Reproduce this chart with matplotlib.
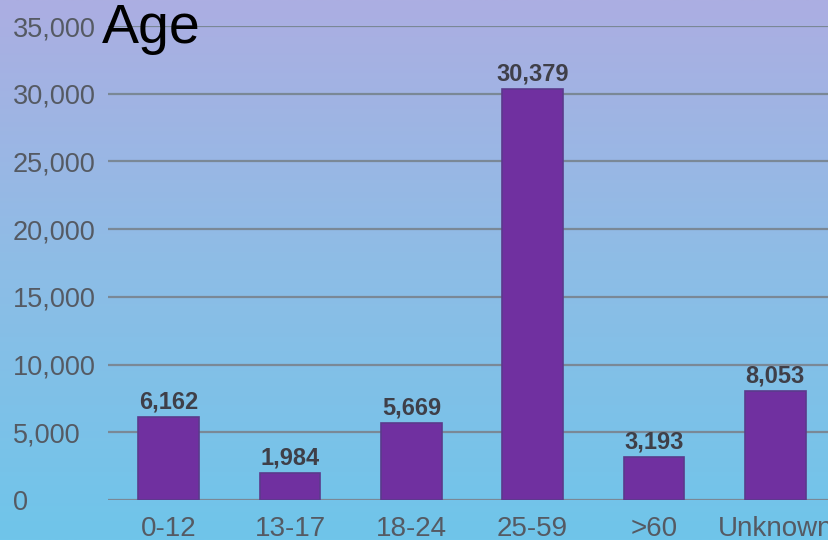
import numpy as np
import matplotlib.pyplot as plt
from matplotlib.colors import LinearSegmentedColormap

plt.rcParams['font.family'] = ['Liberation Sans', 'DejaVu Sans']

# data
categories = ['0-12', '13-17', '18-24', '25-59', '>60', 'Unknown']
counts = [6162, 1984, 5669, 30379, 3193, 8053]
yticks = [0, 5000, 10000, 15000, 20000, 25000, 30000, 35000]

W, H = 829, 540
fig = plt.figure(figsize=(W / 100, H / 100), dpi=100)

# background gradient, lavender at top to sky blue at bottom
bg = fig.add_axes([0, 0, 1, 1], zorder=0)
cmap = LinearSegmentedColormap.from_list('bg', ['#6fc5ea', '#8dbde6', '#acaee2'])
grad = np.linspace(0, 1, 256).reshape(-1, 1)
bg.imshow(grad, aspect='auto', cmap=cmap, origin='lower', extent=[0, 1, 0, 1])
bg.axis('off')

# main axes; right side runs a bit past the figure edge like the original
left, right, top, bottom = 108, 836, 26, 500
ax = fig.add_axes([left / W, (H - bottom) / H, (right - left) / W, (bottom - top) / H], zorder=1)
ax.patch.set_alpha(0)

x = np.arange(len(categories))
ax.bar(x, counts, width=0.5, color='#7030a0', edgecolor='#5b3a8c', linewidth=1.2, zorder=3)

for xi, v in zip(x, counts):
    ax.text(xi, v + 250, f'{v:,}', ha='center', va='bottom', fontsize=17,
            fontweight='bold', color='#3f3f48', zorder=4)

ax.set_xlim(-0.5, len(categories) - 0.5)
ax.set_ylim(0, 35000)
ax.set_yticks(yticks)
ax.set_yticklabels([f'{t:,}' for t in yticks])
ax.set_xticks(x)
ax.set_xticklabels(categories)

ax.yaxis.grid(True, color='#7a8896', linewidth=1.6, zorder=1)
ax.set_axisbelow(True)
for s in ax.spines.values():
    s.set_visible(False)

# y labels are left aligned at the figure edge; pad is in points
ax.tick_params(axis='y', length=0, pad=(left - 13) * 0.72, labelsize=19.5, labelcolor='#555a63')
ax.tick_params(axis='x', length=0, pad=11.5, labelsize=20, labelcolor='#555a63')
for lab in ax.get_yticklabels():
    lab.set_horizontalalignment('left')

fig.text(102 / W, 1 - 43 / H, 'Age', fontsize=40, color='black', ha='left',
         va='baseline', zorder=5)

fig.savefig('out.png', dpi=100)
